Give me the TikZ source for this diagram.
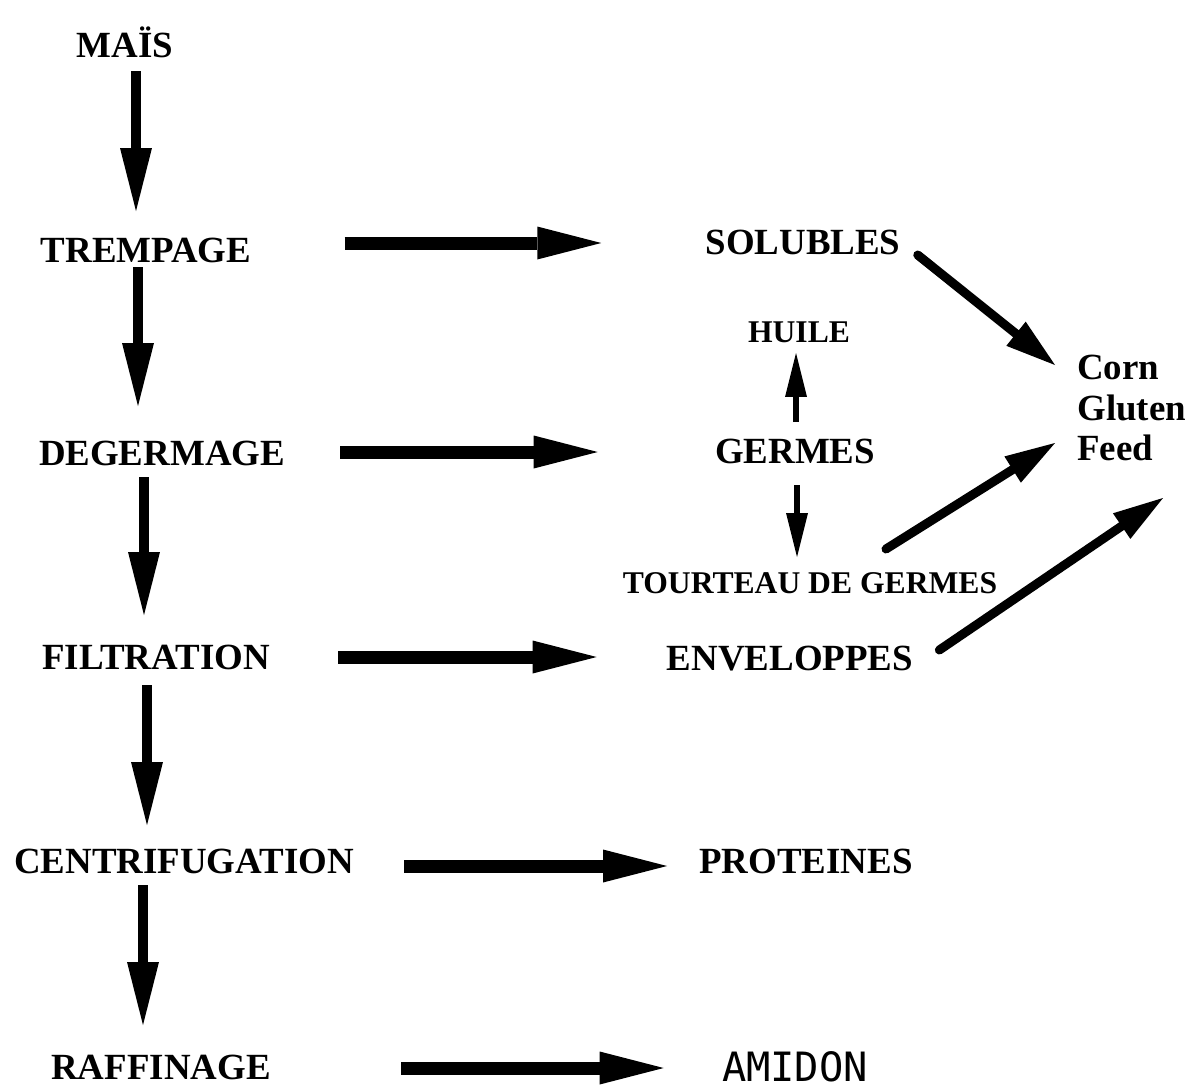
\documentclass[tikz,border=0pt]{standalone}
\usepackage{fontspec}
\setmainfont{Liberation Serif}
\newfontfamily\typefont{DejaVu Sans Mono}
\usetikzlibrary{arrows.meta}

\begin{document}
\begin{tikzpicture}[
            x=0.02cm, y=-0.02cm,
            lbl/.style={font=\bfseries\fontsize{21}{22.8}\selectfont, inner sep=0pt, anchor=base},
            lblsm/.style={lbl, font=\bfseries\fontsize{18}{20}\selectfont},
            varr/.style={line width=0.22cm, -{Triangle[width=0.64cm,length=1.26cm,line width=0pt]}},
            harr/.style={line width=0.26cm, -{Triangle[width=0.66cm,length=1.28cm,line width=0pt]}},
            smarr/.style={line width=0.12cm, -{Triangle[width=0.44cm,length=0.88cm,line width=0pt]}},
            darr/.style={line width=0.18cm, line cap=round, -{Triangle[width=0.62cm,length=1.0cm,line width=0pt]}},
        ]
            \useasboundingbox (0,0) rectangle (1198,1089);

            % etapes du procede
            \node[lbl] (mais) at (125,57) {MAÏS};
            \node[lbl] (tremp) at (146,262) {TREMPAGE};
            \node[lbl] (degerm) at (162,465) {DEGERMAGE};
            \node[lbl] (filtr) at (156,669) {FILTRATION};
            \node[lbl] (centri) at (184,873) {CENTRIFUGATION};
            \node[lbl] (raffin) at (161,1079) {RAFFINAGE};

            % produits
            \node[lbl] (solub) at (803,254) {SOLUBLES};
            \node[lblsm] (huile) at (799,342) {HUILE};
            \node[lbl] (germes) at (795,463) {GERMES};
            \node[lblsm] (tourt) at (810,593) {TOURTEAU DE GERMES};
            \node[lbl] (envel) at (790,670) {ENVELOPPES};
            \node[lbl] (prot) at (806,873) {PROTEINES};
            \node[lbl, font=\typefont\fontsize{23}{25}\selectfont] (amidon) at (795,1081) {AMIDON};
            \node[lbl, anchor=west, align=left] (cgf) at (1077,408) {Corn\\Gluten\\Feed};

            % fleches verticales
            \draw[varr] ([shift={(11,14)}]mais.base) -- ([shift={(-10,-51)}]tremp.base);
            \draw[varr] ([shift={(-8,5)}]tremp.base) -- ([shift={(-24,-59)}]degerm.base);
            \draw[varr] ([shift={(-18,12)}]degerm.base) -- ([shift={(-12,-54)}]filtr.base);
            \draw[varr] ([shift={(-9,16)}]filtr.base) -- ([shift={(-37,-48)}]centri.base);
            \draw[varr] ([shift={(-41,12)}]centri.base) -- ([shift={(-18,-54)}]raffin.base);

            % fleches horizontales
            \draw[harr] ([shift={(93,-19)}]tremp.base east) -- ([shift={(-104,-11)}]solub.base west);
            \draw[harr] ([shift={(55,-13)}]degerm.base east) -- ([shift={(-117,-11)}]germes.base west);
            \draw[harr] ([shift={(68,-12)}]filtr.base east) -- ([shift={(-70,-13)}]envel.base west);
            \draw[harr] ([shift={(50,-7)}]centri.base east) -- ([shift={(-32,-7)}]prot.base west);
            \draw[harr] ([shift={(130,-11)}]raffin.base east) -- ([shift={(-58,-13)}]amidon.base west);

            % germes
            \draw[smarr] ([shift={(1,-41)}]germes.base) -- ([shift={(-3,11)}]huile.base);
            \draw[smarr] ([shift={(2,22)}]germes.base) -- ([shift={(-13,-36)}]tourt.base);

            % vers corn gluten feed
            \draw[darr] ([shift={(17,1)}]solub.base east) -- ([shift={(-22,-43)}]cgf.west);
            \draw[darr] ([shift={(76,-44)}]tourt.base) -- ([shift={(-22,35)}]cgf.west);
            \draw[darr] ([shift={(26,-20)}]envel.base east) -- ([shift={(86,90)}]cgf.west);
        \end{tikzpicture}
\end{document}
